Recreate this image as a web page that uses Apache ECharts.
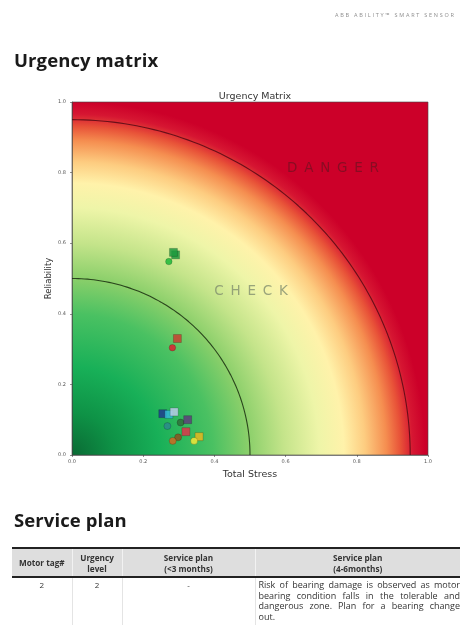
<!DOCTYPE html>
<html>
<head>
<meta charset="utf-8">
<script src="https://cdn.jsdelivr.net/npm/echarts@6/dist/echarts.min.js"></script>
<style>
  html, body { margin:0; padding:0; width:464px; height:625px; background:#fff; overflow:hidden; font-family:"Open Sans","Noto Sans",sans-serif; }
  #chart { position:absolute; left:0; top:0; width:464px; height:625px; }
  .abs { position:absolute; z-index:2; }
  #hdr { left:335px; top:11px; font-size:5.5px; letter-spacing:1.75px; color:#8e8e8e; white-space:nowrap; }
  h2 { margin:0; font-size:18.5px; font-weight:700; color:#1a1a1a; letter-spacing:0.1px; }
  #h1 { left:14px; top:47px; }
  #h2 { left:14px; top:507px; }
  table { position:absolute; z-index:2; left:12px; top:547px; width:448px; border-collapse:collapse; color:#333; table-layout:fixed; }
  thead tr { background:#dedede; border-top:2px solid #222; border-bottom:2px solid #222; }
  th { font-weight:700; font-size:8.2px; padding:1px 2px; height:25px; line-height:11px; text-align:center; vertical-align:middle; border-left:1px solid #f2f2f2; }
  td { padding:2px 3px; vertical-align:top; text-align:center; border-left:1px solid #e4e4e4; line-height:10.5px; font-size:8px; height:44px; }
  td.desc { text-align:left; padding-left:3px; padding-right:0px; font-size:9px; }
  td.desc span { display:block; text-align:justify; text-align-last:justify; white-space:nowrap; }
  td.desc span.last { text-align-last:left; }
</style>
</head>
<body>
<div id="chart"></div>
<div id="hdr" class="abs">ABB ABILITY™ SMART SENSOR</div>
<h2 id="h1" class="abs">Urgency matrix</h2>
<h2 id="h2" class="abs">Service plan</h2>
<table>
  <colgroup><col style="width:60px"><col style="width:50px"><col style="width:133px"><col style="width:205px"></colgroup>
  <thead><tr><th style="border-left:none">Motor tag#</th><th>Urgency<br>level</th><th>Service plan<br>(&lt;3 months)</th><th>Service plan<br>(4-6months)</th></tr></thead>
  <tbody><tr><td style="border-left:none">2</td><td>2</td><td>-</td><td class="desc"><span>Risk of bearing damage is observed as motor</span><span>bearing condition falls in the tolerable and</span><span>dangerous zone. Plan for a bearing change</span><span class="last">out.</span></td></tr></tbody>
</table>
<script>
// ---- data ----
const xTicks = [0.0, 0.2, 0.4, 0.6, 0.8, 1.0];
const yTicks = [0.0, 0.2, 0.4, 0.6, 0.8, 1.0];
const zoneRadii = [0.5, 0.95];
const zoneLabels = [
  { name: 'D\u2002A\u2002N\u2002G\u2002E\u2002R', x: 0.733, y: 0.813 },
  { name: 'C\u2002H\u2002E\u2002C\u2002K', x: 0.503, y: 0.462 }
];
// motor readings: [Total Stress, Reliability]
const greenSquares = [[0.291, 0.567], [0.285, 0.574]];
const greenCircles = [[0.272, 0.548]];
const redSquares = [[0.296, 0.330]];
const redCircles = [[0.282, 0.304]];
const bottomNames = ['navy', 'cyan', 'lightblue', 'teal', 'darkgreen', 'purple', 'red', 'brown', 'orange', 'gold', 'yellow'];
const bottomColors = ['#1f3b8f', '#35b8d8', '#b8cde6', '#2b8a8c', '#2f6e3a', '#5e3d7a', '#e0344a', '#8a5420', '#cf6a22', '#e8b820', '#f2e83a'];
const bottomPoints = [
  [0.255, 0.117], [0.272, 0.115], [0.287, 0.122], [0.268, 0.082], [0.305, 0.092],
  [0.325, 0.100], [0.320, 0.066], [0.298, 0.050], [0.283, 0.040], [0.357, 0.052], [0.343, 0.040]
];
const bottomSymbols = ['rect', 'rect', 'rect', 'circle', 'circle', 'rect', 'rect', 'circle', 'circle', 'rect', 'circle'];

const chart = echarts.init(document.getElementById('chart'), null, { renderer: 'canvas' });

const bg = new echarts.graphic.RadialGradient(0, 1, 1, [
  { offset: 0.00, color: '#0a6a34' },
  { offset: 0.12, color: '#0e9246' },
  { offset: 0.25, color: '#18b058' },
  { offset: 0.40, color: '#4ac162' },
  { offset: 0.50, color: '#8acf6a' },
  { offset: 0.60, color: '#c4e48a' },
  { offset: 0.70, color: '#eef5a8' },
  { offset: 0.77, color: '#fff2aa' },
  { offset: 0.83, color: '#fdcc80' },
  { offset: 0.89, color: '#f58e50' },
  { offset: 0.93, color: '#e85238' },
  { offset: 0.965, color: '#d61632' },
  { offset: 1.00, color: '#cc0029' }
]);

function arc(r) {
  const pts = [];
  for (let i = 0; i <= 90; i++) {
    const t = i * Math.PI / 180;
    pts.push([r * Math.cos(t), r * Math.sin(t)]);
  }
  return pts;
}

const series = [];
zoneRadii.forEach((r, i) => {
  series.push({
    type: 'line', data: arc(r), showSymbol: false, symbol: 'none', silent: true, z: 3,
    lineStyle: { color: i === 0 ? 'rgba(25,45,15,0.85)' : 'rgba(85,10,20,0.85)', width: 1.1 }
  });
});
series.push({
  type: 'scatter', symbolSize: 0, silent: true, z: 4,
  data: zoneLabels.map((d, i) => ({
    value: [d.x, d.y], name: d.name,
    label: { color: i === 0 ? 'rgba(105,18,32,0.85)' : 'rgba(125,138,108,0.95)' }
  })),
  label: { show: true, position: 'inside', formatter: p => p.name, fontSize: 13.5, fontFamily: 'DejaVu Sans', fontWeight: 'normal' }
});
function pts(data, color, symbol, size) {
  return { type: 'scatter', data: data, symbol: symbol, symbolSize: size, z: 5,
    itemStyle: { color: color, opacity: 0.85, borderColor: 'rgba(0,0,0,0.35)', borderWidth: 0.6 } };
}
series.push(pts(greenSquares, '#1f9a3e', 'rect', 8));
series.push(pts(greenCircles, '#1fb83a', 'circle', 6.5));
series.push(pts(redSquares, '#c84030', 'rect', 8));
series.push(pts(redCircles, '#e02030', 'circle', 6.5));
bottomPoints.forEach((p, i) => {
  series.push(Object.assign(pts([p], bottomColors[i], bottomSymbols[i], bottomSymbols[i] === 'rect' ? 8 : 7), { name: bottomNames[i] }));
});

chart.setOption({
  animation: false,
  title: {
    text: 'Urgency Matrix', left: 250, top: 87, textAlign: 'center',
    textStyle: { fontSize: 9.5, fontWeight: 'normal', color: '#333', fontFamily: 'DejaVu Sans' }
  },
  grid: {
    left: 72, top: 102, width: 356, height: 353, show: true,
    backgroundColor: bg, borderColor: '#444', borderWidth: 0.6
  },
  xAxis: {
    type: 'value', min: 0, max: 1, interval: 0.2,
    name: 'Total Stress', nameLocation: 'middle', nameGap: 15, nameMoveOverlap: false,
    nameTextStyle: { fontSize: 9.5, color: '#333', fontFamily: 'DejaVu Sans' },
    axisLine: { show: true, lineStyle: { color: '#444', width: 0.6 } },
    axisTick: { show: true, length: 2, lineStyle: { color: '#444', width: 0.6 } },
    splitLine: { show: false },
    axisLabel: { fontSize: 5, color: '#555', margin: 4, formatter: v => v.toFixed(1), fontFamily: 'DejaVu Sans' }
  },
  yAxis: {
    type: 'value', min: 0, max: 1, interval: 0.2,
    name: 'Reliability', nameLocation: 'middle', nameGap: 19, nameRotate: 90, nameMoveOverlap: false,
    nameTextStyle: { fontSize: 8.5, color: '#333', fontFamily: 'DejaVu Sans' },
    axisLine: { show: true, lineStyle: { color: '#444', width: 0.6 } },
    axisTick: { show: true, length: 2, lineStyle: { color: '#444', width: 0.6 } },
    splitLine: { show: false },
    axisLabel: { fontSize: 5, color: '#555', margin: 6, formatter: v => v.toFixed(1), fontFamily: 'DejaVu Sans' }
  },
  series: series
});
</script>
</body>
</html>
